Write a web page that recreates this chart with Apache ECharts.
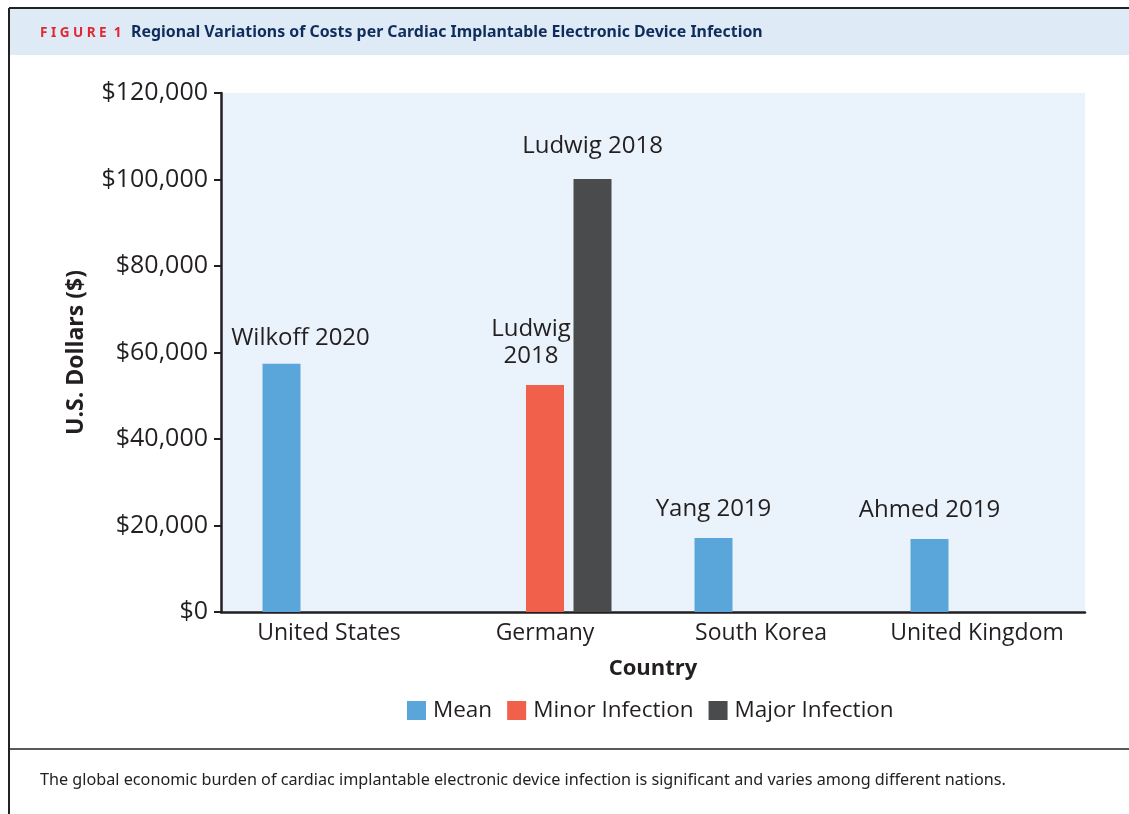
<!DOCTYPE html>
<html>
<head>
<meta charset="utf-8">
<script src="https://cdn.jsdelivr.net/npm/echarts@6/dist/echarts.min.js"></script>
<style>
  html, body { margin: 0; padding: 0; background: #fff; }
  #chart { width: 1129px; height: 814px; }
</style>
</head>
<body>
<div id="chart"></div>
<script>
// data
const countries = ['United States', 'Germany', 'South Korea', 'United Kingdom']
const meanCost = [57400, null, 17100, 16900]
const minorCost = [null, 52500, null, null]
const majorCost = [null, 100100, null, null]
const meanStudy = ['Wilkoff 2020', '', 'Yang 2019', 'Ahmed 2019']
const minorStudy = ['', 'Ludwig\n2018', '', '']
const majorStudy = ['', 'Ludwig 2018', '', '']
const yTicks = [0, 20000, 40000, 60000, 80000, 100000, 120000]

const chartFont = '"Open Sans", "Noto Sans", sans-serif'
const textColor = '#231f20'

const chart = echarts.init(document.getElementById('chart'))

// label nudges so text sits where the figure has it
const labelOffsets = {
  Mean: [[19, 3], [0, 0], [0, 0], [0, 0]],
  'Minor Infection': [[0, 0], [-14, 0], [0, 0], [0, 0]],
  'Major Infection': [[0, 0], [0, -4], [0, 0], [0, 0]],
}

const makeSeries = (name, values, studies, color) => ({
  name: name,
  type: 'bar',
  barWidth: 38,
  barGap: '25%',
  itemStyle: { color: color },
  data: values.map((v, i) => ({
    value: v,
    label: {
      show: v !== null && studies[i] !== '',
      offset: labelOffsets[name][i],
    },
  })),
  label: {
    position: 'top',
    distance: 15,
    fontFamily: chartFont,
    fontSize: 24,
    lineHeight: 27,
    color: textColor,
    formatter: (p) => studies[p.dataIndex],
  },
})

const option = {
  animation: false,
  textStyle: { fontFamily: chartFont },
  graphic: [
    // header band
    { type: 'rect', shape: { x: 9, y: 9, width: 1125, height: 46 }, style: { fill: '#deeaf6' }, z: 0 },
    // outer frame
    { type: 'line', shape: { x1: 9, y1: 8, x2: 1129, y2: 8 }, style: { stroke: '#222', lineWidth: 2 } },
    { type: 'line', shape: { x1: 9, y1: 8, x2: 9, y2: 814 }, style: { stroke: '#222', lineWidth: 2 } },
    { type: 'line', shape: { x1: 9, y1: 749, x2: 1129, y2: 749 }, style: { stroke: '#222', lineWidth: 1.5 } },
    {
      type: 'text', left: 40, top: 26,
      style: { text: 'F I G U R E  1', fill: '#e3262f', font: 'bold 13.5px "Noto Sans", sans-serif' },
    },
    {
      type: 'text', left: 131, top: 24,
      style: { text: 'Regional Variations of Costs per Cardiac Implantable Electronic Device Infection', fill: '#0f2d5c', font: 'bold 15.9px "Noto Sans", sans-serif' },
    },
    {
      type: 'text', left: 40, top: 772,
      style: { text: 'The global economic burden of cardiac implantable electronic device infection is significant and varies among different nations.', fill: '#222', font: '16.2px "Noto Sans", sans-serif' },
    },
  ],
  legend: {
    left: 402,
    top: 694,
    itemWidth: 19,
    itemHeight: 19,
    itemGap: 15,
    icon: 'rect',
    textStyle: { fontFamily: chartFont, fontSize: 22.5, color: textColor, padding: [0, 0, 0, 2] },
    data: ['Mean', 'Minor Infection', 'Major Infection'],
  },
  grid: {
    left: 221,
    top: 93,
    right: 44,
    bottom: 202,
    show: true,
    backgroundColor: '#eaf2fb',
    borderWidth: 0,
  },
  xAxis: {
    type: 'category',
    data: countries,
    name: 'Country',
    nameLocation: 'middle',
    nameGap: 46,
    nameTextStyle: { fontFamily: chartFont, fontSize: 22, fontWeight: 'bold', color: textColor },
    axisLine: { lineStyle: { color: textColor, width: 2.5 } },
    axisTick: { show: false },
    axisLabel: { interval: 0, fontFamily: chartFont, fontSize: 23, color: textColor, margin: 10 },
  },
  yAxis: {
    type: 'value',
    min: yTicks[0],
    max: yTicks[yTicks.length - 1],
    interval: 20000,
    name: 'U.S. Dollars ($)',
    nameLocation: 'middle',
    nameGap: 133,
    nameTextStyle: { fontFamily: chartFont, fontSize: 23, fontWeight: 'bold', color: textColor },
    axisLine: { show: true, lineStyle: { color: textColor, width: 2.5 } },
    axisTick: { show: true, length: 7, lineStyle: { color: textColor, width: 2 } },
    splitLine: { show: false },
    axisLabel: {
      fontFamily: chartFont,
      fontSize: 25,
      color: textColor,
      margin: 13,
      formatter: (v) => '$' + v.toLocaleString('en-US'),
    },
  },
  series: [
    makeSeries('Mean', meanCost, meanStudy, '#5aa5da'),
    makeSeries('Minor Infection', minorCost, minorStudy, '#f0604a'),
    makeSeries('Major Infection', majorCost, majorStudy, '#4a4b4d'),
  ],
}

chart.setOption(option)
</script>
</body>
</html>
